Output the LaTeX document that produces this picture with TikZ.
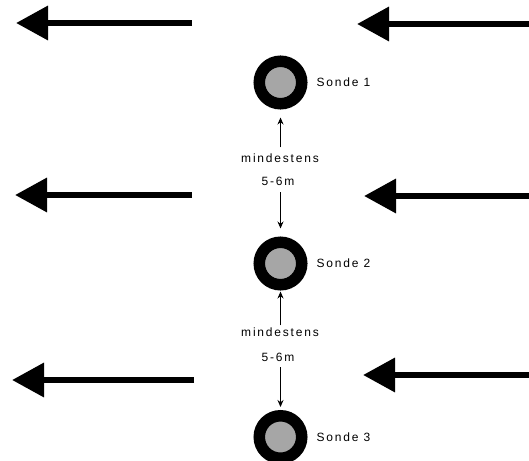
\documentclass[tikz,border=0pt]{standalone}
\usepackage{fontspec}
\usepackage{tikz}
\usetikzlibrary{positioning,arrows.meta,calc}
\newfontfamily\sondefont[LetterSpace=15]{Liberation Sans}
\definecolor{probegray}{HTML}{A6A6A6}

\begin{document}
\begin{tikzpicture}[
    x=1pt, y=-1pt,
    >=Stealth,
    every node/.style={font=\sondefont\fontsize{12}{14}\selectfont},
    sonde/.style={circle, draw=black, fill=probegray, line width=11.5pt, minimum size=42.5pt, inner sep=0pt},
    sondelabel/.style={inner sep=0pt, anchor=west},
    distlabel/.style={inner sep=2pt},
    flowarrow/.style={-{Triangle[length=32pt 0, width=33pt 0]}, line width=6.5pt, black},
    distarrow/.style={-{Stealth[length=7pt, width=6pt]}, line width=1pt},
]
\useasboundingbox (0,0) rectangle (529,460);

% ---- Flow arrows ----
% Row 1
\coordinate (l1s) at (192,23);
\coordinate (l1t) at (16,23);
\coordinate (r1s) at (529,24);
\coordinate (r1t) at (357,24);
\draw[flowarrow] (l1s) -- (l1t);
\draw[flowarrow] (r1s) -- (r1t);

% Row 2
\coordinate (l2s) at (192,195);
\coordinate (l2t) at (15,195);
\coordinate (r2s) at (529,196);
\coordinate (r2t) at (364,196);
\draw[flowarrow] (l2s) -- (l2t);
\draw[flowarrow] (r2s) -- (r2t);

% Row 3
\coordinate (l3s) at (194,380);
\coordinate (l3t) at (12,380);
\coordinate (r3s) at (529,375);
\coordinate (r3t) at (363,375);
\draw[flowarrow] (l3s) -- (l3t);
\draw[flowarrow] (r3s) -- (r3t);

% ---- Probes ----
\node[sonde] (sonde1) at (280.5,82.5) {};
\node[sondelabel, right=9pt of sonde1] (lab1) {Sonde 1};

\node[sonde] (sonde2) at (280.5,263.5) {};
\node[sondelabel, right=9pt of sonde2] (lab2) {Sonde 2};

\node[sonde] (sonde3) at (280.5,437) {};
\node[sondelabel, right=9pt of sonde3] (lab3) {Sonde 3};

% ---- Distances ----
% Between probe 1 and 2
\node[distlabel] (min1) at (280,158) {mindestens};
\node[distlabel] (dist1) at (278,181) {5-6m};
\draw[distarrow] ([yshift=4pt]min1.north -| sonde1) -- ([yshift=-8pt]sonde1.south);
\draw[distarrow] ([yshift=-5pt]dist1.south -| sonde2) -- ([yshift=8pt]sonde2.north);

% Between probe 2 and 3
\node[distlabel] (min2) at (280,332) {mindestens};
\node[distlabel] (dist2) at (278,357) {5-6m};
\draw[distarrow] (min2.north -| sonde2) -- ([yshift=-1pt]sonde2.south);
\draw[distarrow] ([yshift=-4pt]dist2.south -| sonde3) -- ([yshift=3pt]sonde3.north);

\end{tikzpicture}
\end{document}
